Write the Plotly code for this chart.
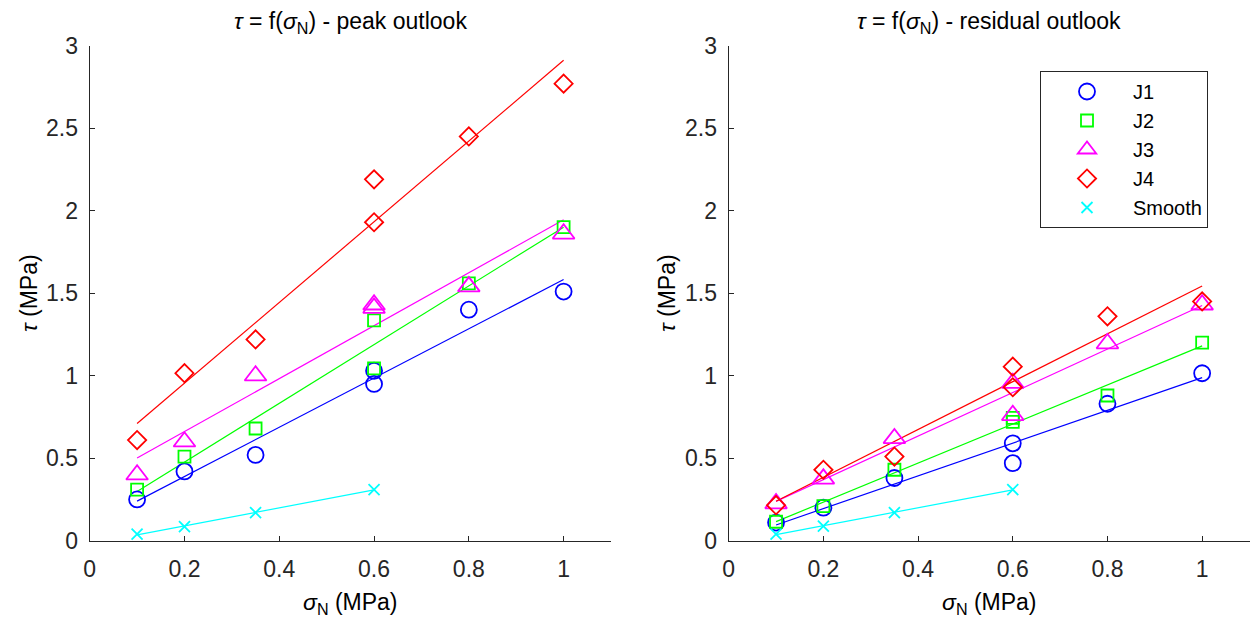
import numpy as np
import plotly.graph_objects as go

# ---------------- data ----------------
sigma = [0.1, 0.2, 0.35, 0.6, 0.6, 0.8, 1.0]
sigma_smooth = [0.1, 0.2, 0.35, 0.6]

J1_peak = [0.25, 0.42, 0.52, 1.03, 0.95, 1.40, 1.51]
J2_peak = [0.31, 0.51, 0.68, 1.045, 1.335, 1.56, 1.90]
J3_peak = [0.40, 0.60, 1.00, 1.43, 1.41, 1.54, 1.86]
J4_peak = [0.61, 1.015, 1.22, 1.93, 2.19, 2.45, 2.77]
smooth_peak = [0.04, 0.085, 0.17, 0.31]

J1_res = [0.11, 0.20, 0.38, 0.59, 0.47, 0.83, 1.015]
J2_res = [0.115, 0.21, 0.43, 0.745, 0.72, 0.88, 1.20]
J3_res = [0.225, 0.375, 0.62, 0.955, 0.76, 1.195, 1.43]
J4_res = [0.215, 0.43, 0.51, 1.055, 0.93, 1.36, 1.45]
smooth_res = [0.04, 0.088, 0.17, 0.31]

names = ["J1", "J2", "J3", "J4", "Smooth"]
colors = ["#0000FF", "#00FF00", "#FF00FF", "#FF0000", "#00FFFF"]
symbols = ["circle-open", "square-open", "triangle-up-open", "diamond-open", "x-thin-open"]
sizes = [16, 12, 19, 14, 11]

x_ticks = [0, 0.2, 0.4, 0.6, 0.8, 1]
x_tick_text = ["0", "0.2", "0.4", "0.6", "0.8", "1"]
y_ticks = [0, 0.5, 1, 1.5, 2, 2.5, 3]
y_tick_text = ["0", "0.5", "1", "1.5", "2", "2.5", "3"]

peak_sets = [(sigma, J1_peak), (sigma, J2_peak), (sigma, J3_peak), (sigma, J4_peak), (sigma_smooth, smooth_peak)]
res_sets = [(sigma, J1_res), (sigma, J2_res), (sigma, J3_res), (sigma, J4_res), (sigma_smooth, smooth_res)]

W, H = 1251, 620
fig = go.Figure()

def add_panel(sets, xa, ya, legend):
    for i, (xs, ys) in enumerate(sets):
        xs_a = np.array(xs)
        ys_a = np.array(ys)
        k, b = np.polyfit(xs_a, ys_a, 1)
        xl = np.array([xs_a.min(), xs_a.max()])
        fig.add_trace(go.Scatter(
            x=xl, y=k * xl + b, mode="lines", xaxis=xa, yaxis=ya,
            line=dict(color=colors[i], width=1.2), showlegend=False, hoverinfo="skip"))
    for i, (xs, ys) in enumerate(sets):
        fig.add_trace(go.Scatter(
            x=xs, y=ys, mode="markers", name=names[i], xaxis=xa, yaxis=ya,
            marker=dict(symbol=symbols[i], size=sizes[i], color=colors[i],
                        line=dict(color=colors[i], width=1.8)),
            showlegend=legend))

add_panel(peak_sets, "x", "y", False)
add_panel(res_sets, "x2", "y2", True)

FONT = "Arial, Liberation Sans, sans-serif"
ax_color = "#262626"
tickfont = dict(family=FONT, size=23, color=ax_color)
common_x = dict(range=[0, 1.1], tickvals=x_ticks, ticktext=x_tick_text,
                showline=True, linecolor=ax_color, linewidth=1.2, ticks="inside", ticklen=5,
                tickcolor=ax_color, tickwidth=1.2, showgrid=False, zeroline=False, tickfont=tickfont,
                mirror=False, fixedrange=True, ticklabelstandoff=8, automargin=False)
common_y = dict(range=[0, 3], tickvals=y_ticks, ticktext=y_tick_text,
                showline=True, linecolor=ax_color, linewidth=1.2, ticks="inside", ticklen=5,
                tickcolor=ax_color, tickwidth=1.2, showgrid=False, zeroline=False, tickfont=tickfont,
                mirror=False, fixedrange=True, ticklabelstandoff=6, automargin=False)

yd = [(H - 540.7) / H, (H - 45.7) / H]
fig.update_layout(
    template="none",
    width=W, height=H, margin=dict(l=0, r=0, t=0, b=0, autoexpand=False),
    paper_bgcolor="white", plot_bgcolor="white",
    font=dict(family=FONT, color="black"),
    xaxis=dict(domain=[89.7 / W, 611 / W], anchor="y", **common_x),
    yaxis=dict(domain=yd, anchor="x", **common_y),
    xaxis2=dict(domain=[728.7 / W, 1249.5 / W], anchor="y2", **common_x),
    yaxis2=dict(domain=yd, anchor="x2", **common_y),
    legend=dict(x=1040 / W, y=(H - 71) / H, xanchor="left", yanchor="top",
                bgcolor="white", bordercolor=ax_color, borderwidth=1,
                font=dict(family=FONT, size=20, color="black"),
                itemwidth=82, tracegroupgap=0),
    showlegend=True,
)

font_t = dict(family=FONT, size=23, color="black")
font_l = dict(family=FONT, size=23, color="black")
ann = []
for cx, txt in [((89.7 + 611) / 2, "<i>τ</i> = f(<i>σ</i><sub>N</sub>) - peak outlook"),
                ((728.7 + 1249.5) / 2, "<i>τ</i> = f(<i>σ</i><sub>N</sub>) - residual outlook")]:
    ann.append(dict(x=cx / W, y=(H - 22) / H, xref="paper", yref="paper", text=txt,
                    showarrow=False, font=font_t, xanchor="center", yanchor="middle"))
for cx in [(89.7 + 611) / 2, (728.7 + 1249.5) / 2]:
    ann.append(dict(x=cx / W, y=(H - 603) / H, xref="paper", yref="paper",
                    text="<i>σ</i><sub>N</sub> (MPa)", showarrow=False, font=font_l,
                    xanchor="center", yanchor="middle"))
for cx in [29, 667]:
    ann.append(dict(x=cx / W, y=(H - 293) / H, xref="paper", yref="paper",
                    text="<i>τ</i> (MPa)", showarrow=False, font=font_l, textangle=-90,
                    xanchor="center", yanchor="middle"))
fig.update_layout(annotations=ann)

fig.write_html("out.html", config={"displayModeBar": False},
               post_script="document.body.style.margin='0px';")
